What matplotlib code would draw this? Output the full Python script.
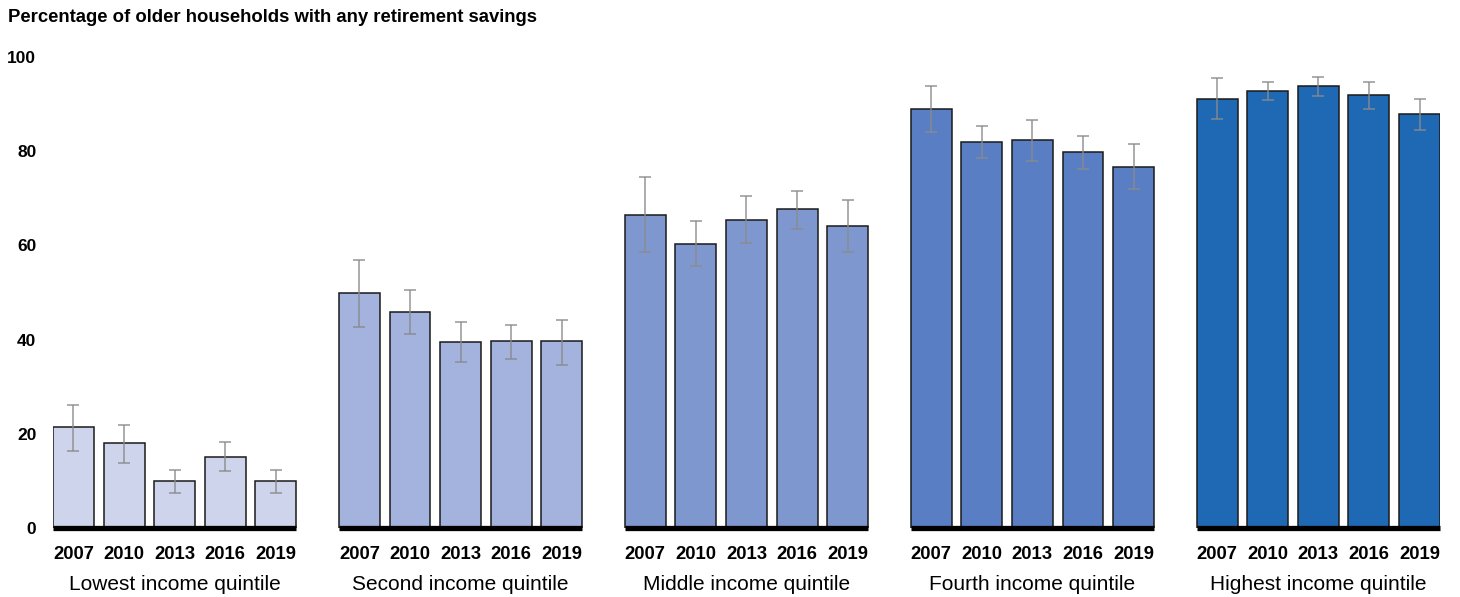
import matplotlib
matplotlib.use("Agg")
import matplotlib.pyplot as plt
import numpy as np

plt.rcParams['font.family'] = ['Liberation Sans', 'DejaVu Sans']

title = "Percentage of older households with any retirement savings"
years = ["2007", "2010", "2013", "2016", "2019"]
groups = ["Lowest income quintile", "Second income quintile", "Middle income quintile",
          "Fourth income quintile", "Highest income quintile"]

lowest = [21.4, 18.0, 10.0, 15.1, 10.0]
lowest_hi = [26.1, 21.9, 12.3, 18.3, 12.3]
lowest_lo = [16.3, 13.8, 7.4, 12.1, 7.4]

second = [49.9, 45.9, 39.5, 39.7, 39.7]
second_hi = [56.9, 50.5, 43.7, 43.1, 44.2]
second_lo = [42.7, 41.2, 35.2, 35.9, 34.6]

middle = [66.5, 60.4, 65.4, 67.7, 64.1]
middle_hi = [74.5, 65.2, 70.4, 71.6, 69.6]
middle_lo = [58.5, 55.6, 60.5, 63.5, 58.6]

fourth = [88.9, 82.0, 82.4, 79.8, 76.6]
fourth_hi = [93.9, 85.3, 86.6, 83.3, 81.5]
fourth_lo = [84.0, 78.6, 77.9, 76.3, 71.9]

highest = [91.1, 92.8, 93.8, 91.9, 88.0]
highest_hi = [95.6, 94.7, 95.8, 94.7, 91.1]
highest_lo = [86.9, 90.8, 91.8, 88.9, 84.6]

values = [lowest, second, middle, fourth, highest]
upper = [lowest_hi, second_hi, middle_hi, fourth_hi, highest_hi]
lower = [lowest_lo, second_lo, middle_lo, fourth_lo, highest_lo]
colors = ["#CDD4EC", "#A3B3DD", "#7E97CF", "#5A7EC4", "#1F69B4"]

yticks = [0, 20, 40, 60, 80, 100]

fig = plt.figure(figsize=(14.6, 5.97), dpi=100)
ax = fig.add_axes([53 / 1460, 1 - 528 / 597, (1440 - 53) / 1460, (528 - 57) / 597])

group_step = 5.65
width = 0.81
n = len(years)
xticks, xlabels = [], []
for g, (vals, hi, lo, col) in enumerate(zip(values, upper, lower, colors)):
    x = g * group_step + np.arange(n)
    vals = np.array(vals)
    yerr = np.vstack([vals - np.array(lo), np.array(hi) - vals])
    ax.bar(x, vals, width=width, color=col, edgecolor="#1a1a1a", linewidth=1.1, zorder=2)
    ax.errorbar(x, vals, yerr=yerr, fmt="none", ecolor="#8a8a8a", alpha=0.7,
                elinewidth=1.4, capsize=4, capthick=1.4, zorder=3)
    ax.plot([x[0] - width / 2, x[-1] + width / 2], [0, 0], color="black",
            linewidth=3.8, solid_capstyle="butt", zorder=4, clip_on=False)
    xticks.extend(x)
    xlabels.extend(years)
    ax.text(x.mean(), -0.119, groups[g], transform=ax.get_xaxis_transform(),
            ha="center", va="center", fontsize=15)

ax.set_xlim(-width / 2, 4 * group_step + n - 1 + width / 2)
ax.set_ylim(0, 100)
ax.set_yticks(yticks)
ax.set_yticklabels([str(t) for t in yticks], fontsize=12.5, fontweight="bold")
ax.set_xticks(xticks)
ax.set_xticklabels(xlabels, fontsize=13.3, fontweight="bold")
ax.tick_params(axis="y", length=0, pad=12)
ax.tick_params(axis="x", length=0, pad=13)
for s in ax.spines.values():
    s.set_visible(False)

fig.text(8 / 1460, 1 - 18 / 597, title, ha="left", va="center",
         fontsize=13.3, fontweight="bold")

fig.savefig("out.png", dpi=100, facecolor="white")
